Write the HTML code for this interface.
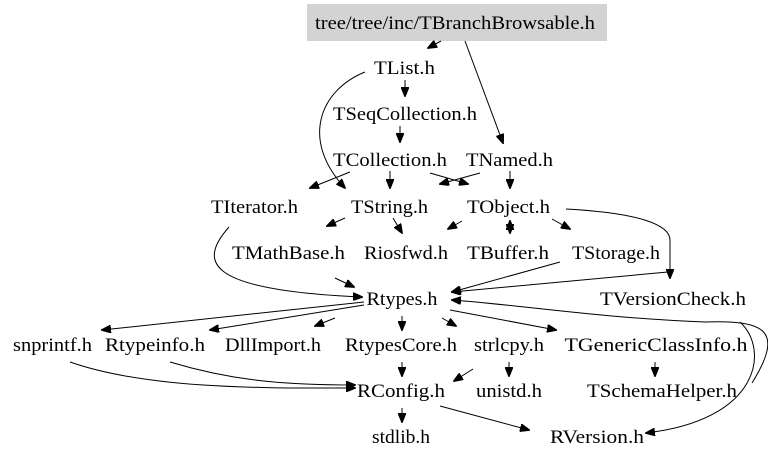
<!DOCTYPE html>
<html><head><style>
html,body{margin:0;padding:0;background:#fff;}
svg{display:block;}
text{font-family:"Liberation Serif",serif;font-size:19px;fill:#000;text-anchor:middle;}
path{fill:none;stroke:#000;stroke-width:1;}
</style></head><body>
<svg width="768" height="461" viewBox="0 0 768 461" xmlns="http://www.w3.org/2000/svg">
<defs>
<marker id="a" markerWidth="10" markerHeight="8" refX="9" refY="4" orient="auto" markerUnits="userSpaceOnUse">
<path d="M0,0 L10,4 L0,8 Z" style="fill:#000;stroke:#000"/>
</marker>
</defs>
<rect x="307" y="4" width="300" height="37" fill="#d3d3d3"/>
<text x="455" y="29" textLength="280" lengthAdjust="spacingAndGlyphs">tree/tree/inc/TBranchBrowsable.h</text>

<g style="marker-end:url(#a)">
<path d="M441,41 L428,48"/>
<path d="M465,41 L503,143"/>
<path d="M405,80 L405,96"/>
<path d="M400,126 L400,142"/>
<path d="M365,72 C320,90 300,140 345,188"/>
<path d="M390,171 L390,188"/>
<path d="M350,172 L310,188"/>
<path d="M480,173 L440,184"/>
<path d="M430,173 L468,184"/>
<path d="M510,171 L510,188"/>
<path d="M345,218 L327,226"/>
<path d="M393,218 L402,233"/>
<path d="M462,221 L448,229"/>
<path d="M510,222 L510,233"/>
<path d="M510,232 L510,221"/>
<path d="M552,219 L570,229"/>
<path d="M566,209 C640,213 670,225 670,240 L670,278"/>
<path d="M229,227 C200,260 200,290 362,297"/>
<path d="M335,278 L354,287"/>
<path d="M560,262 L452,292"/>
<path d="M668,272 L452,292"/>
<path d="M364,302 L102,330"/>
<path d="M364,305 L210,330"/>
<path d="M335,318 L315,326"/>
<path d="M402,316 L402,330"/>
<path d="M442,318 L456,326"/>
<path d="M450,310 L556,330"/>
<path d="M740,322 C770,350 760,420 646,433"/>
<path d="M752,383 C785,330 765,320 705,322 C600,318 520,305 452,300"/>
<path d="M70,362 C150,390 270,388 355,388"/>
<path d="M170,362 C230,380 280,385 355,385"/>
<path d="M402,362 L402,376"/>
<path d="M473,369 L454,381"/>
<path d="M509,362 L509,376"/>
<path d="M655,362 L655,376"/>
<path d="M402,408 L402,422"/>
<path d="M440,406 L529,430"/>
</g>

<text x="404.5" y="74" textLength="61" lengthAdjust="spacingAndGlyphs">TList.h</text>
<text x="405" y="120" textLength="144" lengthAdjust="spacingAndGlyphs">TSeqCollection.h</text>
<text x="390" y="166" textLength="114" lengthAdjust="spacingAndGlyphs">TCollection.h</text>
<text x="509.5" y="166" textLength="87" lengthAdjust="spacingAndGlyphs">TNamed.h</text>
<text x="254.5" y="213" textLength="87" lengthAdjust="spacingAndGlyphs">TIterator.h</text>
<text x="389.5" y="213" textLength="77" lengthAdjust="spacingAndGlyphs">TString.h</text>
<text x="508.5" y="213" textLength="83" lengthAdjust="spacingAndGlyphs">TObject.h</text>
<text x="288.5" y="259" textLength="113" lengthAdjust="spacingAndGlyphs">TMathBase.h</text>
<text x="406" y="259" textLength="84" lengthAdjust="spacingAndGlyphs">Riosfwd.h</text>
<text x="508" y="259" textLength="82" lengthAdjust="spacingAndGlyphs">TBuffer.h</text>
<text x="616" y="259" textLength="88" lengthAdjust="spacingAndGlyphs">TStorage.h</text>
<text x="402" y="305" textLength="71" lengthAdjust="spacingAndGlyphs">Rtypes.h</text>
<text x="673" y="305" textLength="146" lengthAdjust="spacingAndGlyphs">TVersionCheck.h</text>
<text x="52.5" y="351" textLength="79" lengthAdjust="spacingAndGlyphs">snprintf.h</text>
<text x="155" y="351" textLength="100" lengthAdjust="spacingAndGlyphs">Rtypeinfo.h</text>
<text x="273" y="351" textLength="96" lengthAdjust="spacingAndGlyphs">DllImport.h</text>
<text x="401" y="351" textLength="112" lengthAdjust="spacingAndGlyphs">RtypesCore.h</text>
<text x="509" y="351" textLength="70" lengthAdjust="spacingAndGlyphs">strlcpy.h</text>
<text x="656" y="351" textLength="183" lengthAdjust="spacingAndGlyphs">TGenericClassInfo.h</text>
<text x="401" y="397" textLength="88" lengthAdjust="spacingAndGlyphs">RConfig.h</text>
<text x="509" y="397" textLength="66" lengthAdjust="spacingAndGlyphs">unistd.h</text>
<text x="662" y="397" textLength="150" lengthAdjust="spacingAndGlyphs">TSchemaHelper.h</text>
<text x="401" y="443" textLength="58" lengthAdjust="spacingAndGlyphs">stdlib.h</text>
<text x="597" y="443" textLength="94" lengthAdjust="spacingAndGlyphs">RVersion.h</text>
</svg>
</body></html>
